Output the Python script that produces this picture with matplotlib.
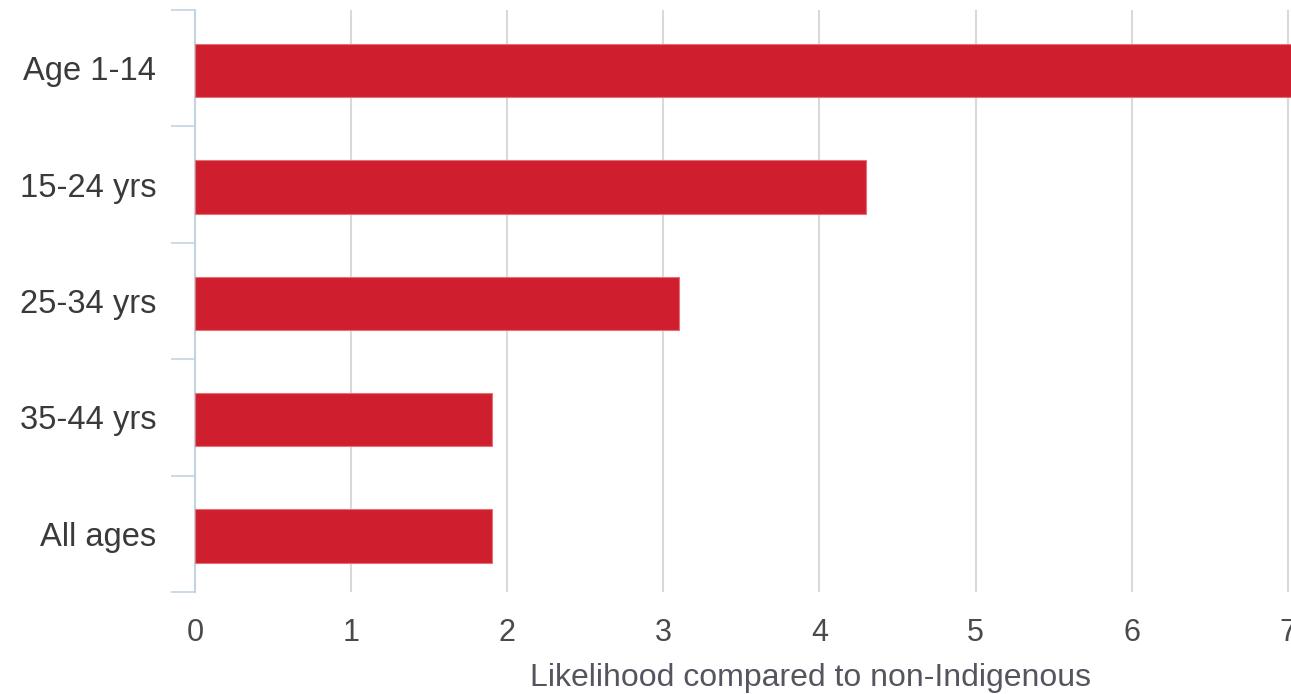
import matplotlib.pyplot as plt
import numpy as np

# data
groups = ["Age 1-14", "15-24 yrs", "25-34 yrs", "35-44 yrs", "All ages"]
likelihood = [7.1, 4.3, 3.1, 1.9, 1.9]
xticks = [0, 1, 2, 3, 4, 5, 6, 7]

plt.rcParams['font.family'] = ['Liberation Sans', 'DejaVu Sans']

fig = plt.figure(figsize=(12.91, 6.94), dpi=100)
ax = fig.add_axes([195/1291, 102/694, 1096/1291, 582/694])

ypos = np.arange(len(groups))
ax.barh(ypos + 0.02, likelihood, height=0.46, color='#cf1f2e', edgecolor='#e4707a',
        linewidth=0.8, zorder=3)

ax.set_ylim(len(groups) - 0.5, -0.5)
ax.set_xlim(0, 1096/156.1)

# grid
ax.set_xticks(xticks)
ax.grid(axis='x', color='#d9d9d9', linewidth=1.5, zorder=0)
ax.tick_params(axis='x', length=0, pad=19, labelsize=22, labelcolor='#4a4a4a')

# category labels + separator ticks on left axis
ax.set_yticks(ypos)
ax.set_yticklabels(groups)
ax.set_yticks(np.arange(-0.5, len(groups)), minor=True)
ax.tick_params(axis='y', which='major', length=0, pad=28, labelsize=23.5, labelcolor='#3a3a3a')
ax.tick_params(axis='y', which='minor', length=17, width=1.2, color='#c3d3e3')

for s in ['top', 'right', 'bottom']:
    ax.spines[s].set_visible(False)
ax.spines['left'].set_color('#c3d3e3')
ax.spines['left'].set_linewidth(1.5)

ax.set_xlabel('Likelihood compared to non-Indigenous', fontsize=23, color='#555560')
ax.xaxis.label.set_va('center')
ax.xaxis.set_label_coords((811-195)/1096, -0.148)

fig.savefig('out.png', dpi=100)
